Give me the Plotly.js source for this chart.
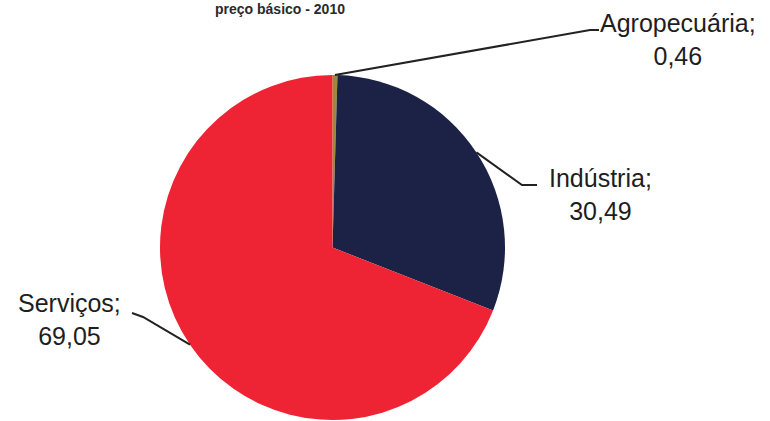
<!DOCTYPE html>
<html>
<head>
<meta charset="utf-8">
<script src="https://cdn.plot.ly/plotly-3.0.1.min.js"></script>
<style>html,body{margin:0;padding:0;background:#fff;}#chart{width:770px;height:421px;}</style>
</head>
<body>
<div id="chart"></div>
<script>
// Data
var categories = ["Agropecuária", "Indústria", "Serviços"];
var values = [0.46, 30.49, 69.05];
var valueLabels = ["0,46", "30,49", "69,05"];
var colors = ["#9A8A3E", "#1B2246", "#EE2334"];
var titleText = "preço básico - 2010";

var W = 770, H = 421;
var domX = [160 / W, 505 / W];
var domY = [1 / H, 346 / H];
// pie geometry (pixels) derived from the domain
var cx = (domX[0] + domX[1]) / 2 * W;
var cy = H - (domY[0] + domY[1]) / 2 * H;
var r = Math.min((domX[1] - domX[0]) * W, (domY[1] - domY[0]) * H) / 2;

// label layout (pixel positions of label centres and leader elbows)
var labelPos = [[678, 40], [600, 194], [69, 319]];
var elbows = [[[590, 30], [599, 30]], [[522, 185], [537, 185]], [[143, 317], [132, 313]]];

function px2paper(p) { return [p[0] / W, 1 - p[1] / H]; }

var total = values.reduce(function (a, b) { return a + b; }, 0);
var cum = 0;
var shapes = [], annotations = [];
for (var i = 0; i < values.length; i++) {
  var mid = (cum + values[i] / 2) / total * 2 * Math.PI;
  cum += values[i];
  var edge = [cx + r * Math.sin(mid), cy - r * Math.cos(mid)];
  var pts = [edge].concat(elbows[i]).map(px2paper);
  var path = "M" + pts.map(function (p) { return p[0] + "," + p[1]; }).join(" L");
  shapes.push({type: "path", xref: "paper", yref: "paper", path: path,
    line: {color: "#222", width: 2}});
  var lp = px2paper(labelPos[i]);
  annotations.push({xref: "paper", yref: "paper", x: lp[0], y: lp[1],
    xanchor: "center", yanchor: "middle", showarrow: false, align: "center",
    text: categories[i] + ";<br>" + valueLabels[i],
    font: {family: "Liberation Sans, Arial, sans-serif", size: 25, color: "#1e1e1e"}});
}
annotations.push({xref: "paper", yref: "paper", x: 280 / W, y: 1,
  xanchor: "center", yanchor: "top", showarrow: false, borderpad: 0,
  text: "<b>" + titleText + "</b>",
  font: {family: "Liberation Sans, Arial, sans-serif", size: 14, color: "#2a2a2a"}});

var trace = {
  type: "pie", labels: categories, values: values, sort: false,
  direction: "clockwise", rotation: 0, textinfo: "none", hoverinfo: "none",
  marker: {colors: colors, line: {width: 0}},
  domain: {x: domX, y: domY}, showlegend: false
};
Plotly.newPlot("chart", [trace], {
  width: W, height: H, margin: {l: 0, r: 0, t: 0, b: 0},
  paper_bgcolor: "#fff", showlegend: false,
  shapes: shapes, annotations: annotations
}, {staticPlot: true});
</script>
</body>
</html>
